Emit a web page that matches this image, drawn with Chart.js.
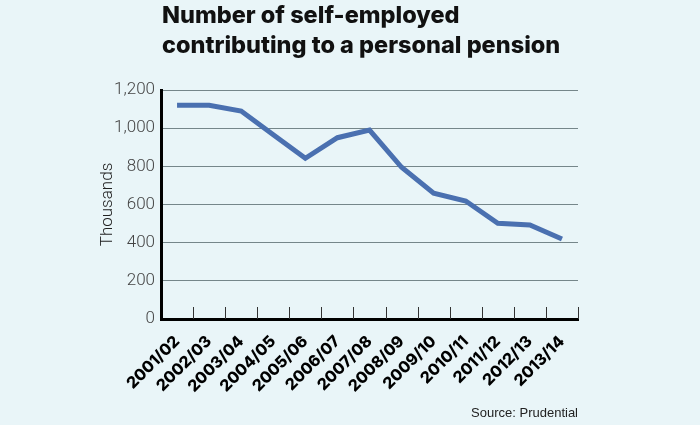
<!DOCTYPE html>
<html>
<head>
<meta charset="utf-8">
<script src="https://cdn.jsdelivr.net/npm/chart.js@4"></script>
<style>
  body { margin: 0; background: #e9f5f8; }
  canvas { display: block; }
</style>
</head>
<body>
<canvas id="pensionChart" width="700" height="425"></canvas>
<script>
const years = ['2001/02', '2002/03', '2003/04', '2004/05', '2005/06', '2006/07', '2007/08',
    '2008/09', '2009/10', '2010/11', '2011/12', '2012/13', '2013/14'];
const contributors = [1120, 1120, 1090, 966, 842, 950, 990, 795, 659, 618, 502, 493, 419];
const titleLines = ['Number of self-employed', 'contributing to a personal pension'];
const sourceText = 'Source: Prudential';

// title, source and the little tick marks inside the x axis
const extras = {
    id: 'extras',
    afterDatasetsDraw(chart) {
        const ctx = chart.ctx;
        const area = chart.chartArea;
        const x = chart.scales.x;
        const half = (x.getPixelForValue(1) - x.getPixelForValue(0)) / 2;
        ctx.save();
        ctx.strokeStyle = '#333';
        ctx.lineWidth = 1;
        for (let i = 0; i < years.length; i++) {
            const px = Math.round(x.getPixelForValue(i) + half) + 0.5;
            ctx.beginPath();
            ctx.moveTo(px, area.bottom);
            ctx.lineTo(px, area.bottom - 12);
            ctx.stroke();
        }
        ctx.restore();
    },
    afterDraw(chart) {
        const ctx = chart.ctx;
        const area = chart.chartArea;
        ctx.save();
        ctx.fillStyle = '#111';
        ctx.font = '800 23.5px Inter';
        ctx.textBaseline = 'alphabetic';
        ctx.textAlign = 'left';
        ctx.fillText(titleLines[0], area.left + 1, 23);
        ctx.fillText(titleLines[1], area.left + 1, 53);
        ctx.fillStyle = '#222';
        ctx.font = '13px "Liberation Sans"';
        ctx.textAlign = 'right';
        ctx.fillText(sourceText, area.right, 417);
        ctx.restore();
    }
};

function createPensionChart() {
    const ctx = document.getElementById('pensionChart').getContext('2d');
    new Chart(ctx, {
        type: 'line',
        data: {
            labels: years,
            datasets: [{
                label: 'Self-employed contributors',
                data: contributors,
                borderColor: '#4a70b0',
                borderWidth: 5,
                pointRadius: 0,
                tension: 0,
                fill: false
            }]
        },
        options: {
            responsive: false,
            animation: false,
            layout: {
                padding: { top: 90, right: 122, bottom: 0, left: 95 }
            },
            plugins: {
                legend: { display: false },
                tooltip: { enabled: false }
            },
            scales: {
                x: {
                    offset: true,
                    grid: { display: false },
                    border: { display: true, color: '#000', width: 3 },
                    ticks: {
                        color: '#000',
                        font: { family: 'Inter', size: 16, weight: '800' },
                        maxRotation: 45,
                        minRotation: 45,
                        autoSkip: false,
                        padding: 5
                    },
                    afterFit(scale) { scale.height = 106; }
                },
                y: {
                    min: 0,
                    max: 1200,
                    grid: { color: '#75868a', lineWidth: 1, drawTicks: false },
                    border: { display: true, color: '#000', width: 3 },
                    ticks: {
                        stepSize: 200,
                        color: '#444',
                        padding: 6,
                        font: { family: 'Roboto', size: 17, weight: '300' },
                        callback: v => v.toLocaleString('en-US')
                    },
                    title: {
                        display: true,
                        text: 'Thousands',
                        color: '#222',
                        font: { family: 'Roboto', size: 17, weight: '300' },
                        padding: { top: 3, bottom: 4 }
                    },
                    afterFit(scale) { scale.width = 66; }
                }
            }
        },
        plugins: [extras]
    });
}

createPensionChart();
</script>
</body>
</html>
